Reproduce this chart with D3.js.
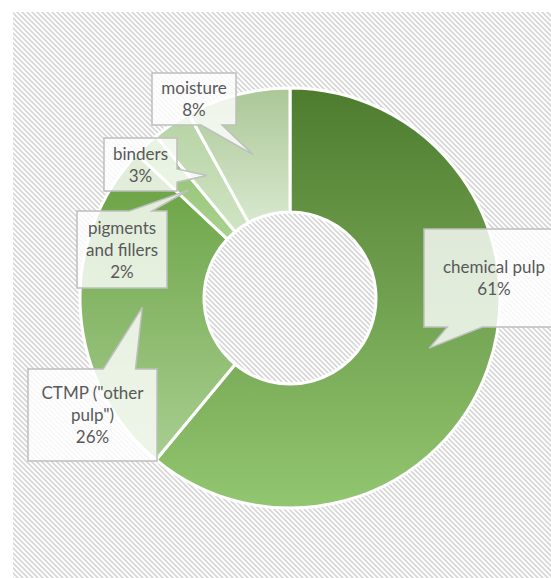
<!DOCTYPE html>
<html>
<head>
<meta charset="utf-8">
<script src="https://cdn.jsdelivr.net/npm/d3@7"></script>
<style>
  body { margin: 0; background: #fff; }
  svg { display: block; }
</style>
</head>
<body>
<div id="chart"></div>
<script>
// data
const categories = ["chemical pulp", "CTMP (\"other pulp\")", "pigments and fillers", "binders", "moisture"];
const shares = [61, 26, 2, 3, 8];
const labelLines = [
  ["chemical pulp"],
  ["CTMP (\"other", "pulp\")"],
  ["pigments", "and fillers"],
  ["binders"],
  ["moisture"],
];

// gradient stops per slice (top -> bottom)
const sliceColors = [
  ["#4e7c2f", "#93c670"],
  ["#66a03f", "#a8ce90"],
  ["#8cbf69", "#abd291"],
  ["#b6d3a3", "#d0e4c3"],
  ["#abc797", "#d8e8ce"],
];

// callout boxes (layout only)
const boxes = [
  { x: 424, y: 229, w: 140, h: 98 },
  { x: 28, y: 369, w: 129, h: 92 },
  { x: 77, y: 211, w: 90, h: 77 },
  { x: 104, y: 138, w: 73, h: 53 },
  { x: 152, y: 73, w: 84, h: 52 },
];

const W = 551, H = 578;
const cx = 290, cy = 298;
const outerR = 210, innerR = 86;
const lh = 22;

const svg = d3.select("#chart").append("svg")
  .attr("width", W).attr("height", H);

const defs = svg.append("defs");

// hatched plot background
const pat = defs.append("pattern")
  .attr("id", "hatch")
  .attr("patternUnits", "userSpaceOnUse")
  .attr("width", 5).attr("height", 5);
pat.append("rect").attr("width", 5).attr("height", 5).attr("fill", "#fff");
pat.append("path")
  .attr("d", "M0,0 L5,5 M-1,4 L1,6 M4,-1 L6,1")
  .attr("stroke", "#d6d6d6")
  .attr("stroke-width", 1.6);

svg.append("rect")
  .attr("x", 13).attr("y", 12)
  .attr("width", W - 13).attr("height", H - 12)
  .attr("fill", "url(#hatch)");

sliceColors.forEach((c, i) => {
  const g = defs.append("linearGradient")
    .attr("id", "grad" + i)
    .attr("x1", 0).attr("y1", 0).attr("x2", 0).attr("y2", 1);
  g.append("stop").attr("offset", "0%").attr("stop-color", c[0]);
  g.append("stop").attr("offset", "100%").attr("stop-color", c[1]);
});

const pie = d3.pie().sort(null).value((d) => d);
const arc = d3.arc().innerRadius(innerR).outerRadius(outerR);
const arcs = pie(shares);

const chart = svg.append("g").attr("transform", `translate(${cx},${cy})`);

chart.selectAll("path.slice")
  .data(arcs)
  .join("path")
  .attr("class", "slice")
  .attr("d", arc)
  .attr("fill", (d, i) => `url(#grad${i})`)
  .attr("stroke", "#fff")
  .attr("stroke-width", 3)
  .attr("stroke-linejoin", "round");

// callout shape: rectangle with a wedge towards the tip
const calloutPath = (b, tip) => {
  const { x, y, w, h } = b;
  const mx = x + w / 2, my = y + h / 2;
  const dx = (tip[0] - mx) / w, dy = (tip[1] - my) / h;
  let pts;
  if (Math.abs(dy) >= Math.abs(dx)) {
    const f = tip[0] > mx ? [7 / 12, 10 / 12] : [2 / 12, 5 / 12];
    const a = x + w * f[0], c = x + w * f[1];
    if (dy < 0) pts = [[x, y], [a, y], tip, [c, y], [x + w, y], [x + w, y + h], [x, y + h]];
    else pts = [[x, y], [x + w, y], [x + w, y + h], [c, y + h], tip, [a, y + h], [x, y + h]];
  } else {
    const f = tip[1] > my ? [7 / 12, 10 / 12] : [2 / 12, 5 / 12];
    const a = y + h * f[0], c = y + h * f[1];
    if (dx > 0) pts = [[x, y], [x + w, y], [x + w, a], tip, [x + w, c], [x + w, y + h], [x, y + h]];
    else pts = [[x, y], [x + w, y], [x + w, y + h], [x, y + h], [x, c], tip, [x, a]];
  }
  return d3.line()(pts) + "Z";
};

const labels = svg.append("g");

arcs.forEach((d, i) => {
  const c = arc.centroid(d);
  const tip = [cx + c[0], cy + c[1]];
  const b = boxes[i];
  labels.append("path")
    .attr("d", calloutPath(b, tip))
    .attr("fill", "#fff")
    .attr("fill-opacity", 0.8)
    .attr("stroke", "#bfbfbf")
    .attr("stroke-width", 1.5);

  const lines = labelLines[i].concat([d3.format(".0f")(shares[i]) + "%"]);
  const t = labels.append("text")
    .attr("x", b.x + b.w / 2)
    .attr("text-anchor", "middle")
    .attr("font-family", "Lato, 'Open Sans', sans-serif")
    .attr("font-size", 17)
    .attr("fill", "#595959");
  const y0 = b.y + b.h / 2 - ((lines.length - 1) * lh) / 2 + 6;
  lines.forEach((s, k) => {
    t.append("tspan")
      .attr("x", b.x + b.w / 2)
      .attr("y", y0 + k * lh)
      .text(s);
  });
});
</script>
</body>
</html>
